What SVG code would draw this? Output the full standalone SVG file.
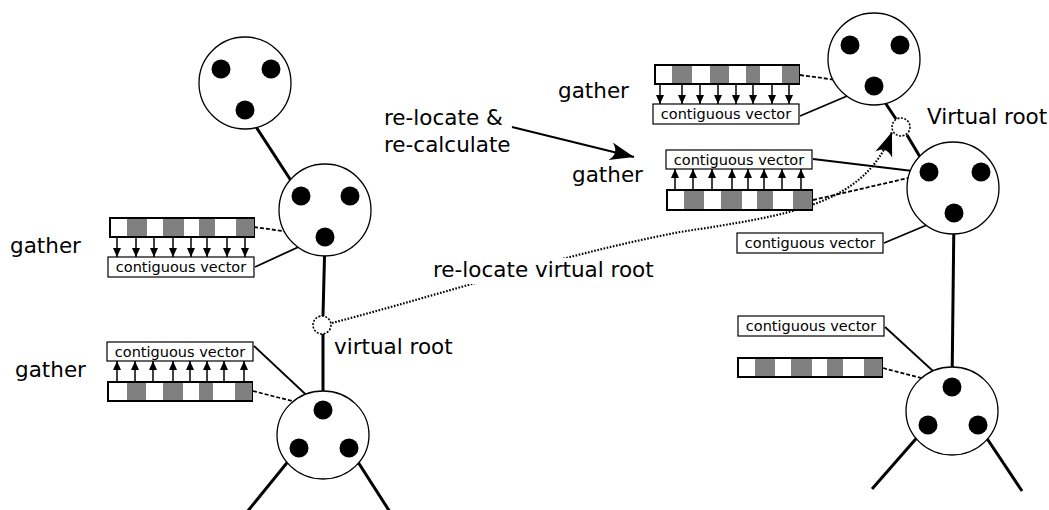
<svg xmlns="http://www.w3.org/2000/svg" width="1049" height="510" viewBox="0 0 1049 510">
<defs>
<marker id="ah" markerUnits="userSpaceOnUse" markerWidth="12" markerHeight="12" viewBox="-10 -6 12 12" refX="0" refY="0" orient="auto">
<path d="M0,0 L-9,-4 L-9,4 Z" fill="#000"/>
</marker>
<marker id="big" markerUnits="userSpaceOnUse" markerWidth="28" markerHeight="22" viewBox="-26 -11 28 22" refX="0" refY="0" orient="auto">
<path d="M0,0 L-24,-9 C-18,-3 -18,3 -24,9 Z" fill="#000"/>
</marker>
</defs>
<style>
.node{fill:#fff;stroke:#000;stroke-width:1.3}
.dot{fill:#000}
.vr{fill:#fff;stroke:#000;stroke-width:1.6;stroke-dasharray:2,1.5}
.edge{stroke:#000;stroke-width:3;fill:none}
.link{stroke:#000;stroke-width:1.8;fill:none}
.dash{stroke:#000;stroke-width:1.8;fill:none;stroke-dasharray:4,2}
.bar{fill:#fff;stroke:#000;stroke-width:2}
.g{fill:#808080}
.box{fill:#fff;stroke:#000;stroke-width:1.2}
.arr{stroke:#000;stroke-width:1.5;fill:none;marker-end:url(#ah)}
.lbl{font-family:"DejaVu Sans",sans-serif;font-size:21.5px;fill:#000}
.bt{font-family:"DejaVu Sans",sans-serif;font-size:14.5px;fill:#000;text-anchor:middle}
</style>

<g id="connectors">
<line class="edge" x1="245" y1="110" x2="301" y2="196"/>
<line class="edge" x1="325" y1="237" x2="323" y2="316"/>
<line class="edge" x1="323" y1="334" x2="323" y2="410"/>
<line class="edge" x1="299" y1="448" x2="247" y2="512"/>
<line class="edge" x1="349" y1="448" x2="390" y2="512"/>
<line class="edge" x1="874" y1="86" x2="896" y2="119"/>
<line class="edge" x1="907" y1="135" x2="929" y2="172"/>
<line class="edge" x1="954" y1="213" x2="952" y2="387"/>
<line class="edge" x1="928" y1="425" x2="872" y2="489"/>
<line class="edge" x1="978" y1="425" x2="1022" y2="491"/>
<line class="dash" x1="254" y1="227" x2="318" y2="236"/>
<line class="link" x1="255" y1="267" x2="318" y2="238"/>
<line class="link" x1="254" y1="346" x2="317" y2="405"/>
<line class="dash" x1="253" y1="391" x2="315" y2="407"/>
<line class="dash" x1="800" y1="75" x2="866" y2="84"/>
<line class="link" x1="800" y1="116" x2="866" y2="88"/>
<line class="link" x1="813" y1="159" x2="921" y2="172"/>
<line class="dash" x1="813" y1="200" x2="921" y2="175"/>
<line class="link" x1="884" y1="243" x2="946" y2="217"/>
<line class="link" x1="885" y1="327" x2="945" y2="382"/>
<line class="dash" x1="883" y1="368" x2="944" y2="384"/>
<path d="M332,323 C450,292 560,255 680,232 C790,215 865,205 892,132" fill="none" stroke="#000" stroke-width="2.2" stroke-dasharray="1.6,1.6" marker-end="url(#big)"/>
<line x1="512" y1="127" x2="634" y2="157" stroke="#000" stroke-width="2" marker-end="url(#big)"/>
</g>

<g id="node-top-left">
<circle class="node" cx="245" cy="83" r="46"/>
<circle class="dot" cx="221" cy="69" r="9.5"/>
<circle class="dot" cx="271" cy="69" r="9.5"/>
<circle class="dot" cx="245" cy="110" r="9.5"/>
</g>
<g id="node-mid-left">
<circle class="node" cx="325" cy="210" r="46"/>
<circle class="dot" cx="301" cy="196" r="9.5"/>
<circle class="dot" cx="350" cy="196" r="9.5"/>
<circle class="dot" cx="325" cy="237" r="9.5"/>
</g>
<g id="node-bottom-left">
<ellipse class="node" cx="323" cy="435" rx="46" ry="44"/>
<circle class="dot" cx="323" cy="410" r="9.5"/>
<circle class="dot" cx="299" cy="448" r="9.5"/>
<circle class="dot" cx="349" cy="448" r="9.5"/>
</g>
<g id="vroot-left">
<circle class="vr" cx="322" cy="325" r="9"/>
</g>
<g id="node-top-right">
<circle class="node" cx="874" cy="59" r="46"/>
<circle class="dot" cx="850" cy="45" r="9.5"/>
<circle class="dot" cx="900" cy="45" r="9.5"/>
<circle class="dot" cx="874" cy="86" r="9.5"/>
</g>
<g id="vroot-right">
<circle class="vr" cx="901" cy="127" r="9"/>
</g>
<g id="node-mid-right">
<circle class="node" cx="953" cy="188" r="46"/>
<circle class="dot" cx="929" cy="172" r="9.5"/>
<circle class="dot" cx="981" cy="172" r="9.5"/>
<circle class="dot" cx="954" cy="213" r="9.5"/>
</g>
<g id="node-bottom-right">
<ellipse class="node" cx="952" cy="411" rx="46" ry="44"/>
<circle class="dot" cx="952" cy="387" r="9.5"/>
<circle class="dot" cx="928" cy="425" r="9.5"/>
<circle class="dot" cx="978" cy="425" r="9.5"/>
</g>

<g id="vec-left-top">
<rect class="bar" x="110" y="218" width="144" height="19"/>
<rect class="g" x="127" y="219" width="20" height="17"/>
<rect class="g" x="163" y="219" width="21" height="17"/>
<rect class="g" x="199" y="219" width="16" height="17"/>
<rect class="g" x="236" y="219" width="18" height="17"/>
<line class="arr" x1="117" y1="238" x2="117" y2="257"/>
<line class="arr" x1="136" y1="238" x2="136" y2="257"/>
<line class="arr" x1="154" y1="238" x2="154" y2="257"/>
<line class="arr" x1="173" y1="238" x2="173" y2="257"/>
<line class="arr" x1="191" y1="238" x2="191" y2="257"/>
<line class="arr" x1="207" y1="238" x2="207" y2="257"/>
<line class="arr" x1="227" y1="238" x2="227" y2="257"/>
<line class="arr" x1="245" y1="238" x2="245" y2="257"/>
<rect class="box" x="108" y="257" width="146" height="20"/>
<text class="bt" x="181" y="272">contiguous vector</text>
</g>
<g id="vec-left-bottom">
<rect class="box" x="107" y="342" width="146" height="19"/>
<text class="bt" x="180" y="356.5">contiguous vector</text>
<line class="arr" x1="117" y1="382" x2="117" y2="361"/>
<line class="arr" x1="135" y1="382" x2="135" y2="361"/>
<line class="arr" x1="153" y1="382" x2="153" y2="361"/>
<line class="arr" x1="173" y1="382" x2="173" y2="361"/>
<line class="arr" x1="190" y1="382" x2="190" y2="361"/>
<line class="arr" x1="207" y1="382" x2="207" y2="361"/>
<line class="arr" x1="224" y1="382" x2="224" y2="361"/>
<line class="arr" x1="244" y1="382" x2="244" y2="361"/>
<rect class="bar" x="108" y="382" width="144" height="19"/>
<rect class="g" x="127" y="383" width="19" height="17"/>
<rect class="g" x="163" y="383" width="20" height="17"/>
<rect class="g" x="199" y="383" width="14" height="17"/>
<rect class="g" x="235" y="383" width="17" height="17"/>
</g>
<g id="vec-right-top">
<rect class="bar" x="655" y="65" width="144" height="19"/>
<rect class="g" x="672" y="66" width="20" height="17"/>
<rect class="g" x="710" y="66" width="19" height="17"/>
<rect class="g" x="746" y="66" width="14" height="17"/>
<rect class="g" x="782" y="66" width="17" height="17"/>
<line class="arr" x1="660" y1="85" x2="660" y2="104"/>
<line class="arr" x1="682" y1="85" x2="682" y2="104"/>
<line class="arr" x1="700" y1="85" x2="700" y2="104"/>
<line class="arr" x1="718" y1="85" x2="718" y2="104"/>
<line class="arr" x1="736" y1="85" x2="736" y2="104"/>
<line class="arr" x1="753" y1="85" x2="753" y2="104"/>
<line class="arr" x1="772" y1="85" x2="772" y2="104"/>
<line class="arr" x1="789" y1="85" x2="789" y2="104"/>
<rect class="box" x="653" y="104" width="146" height="20"/>
<text class="bt" x="726" y="119">contiguous vector</text>
</g>
<g id="vec-right-mid">
<rect class="box" x="666" y="150" width="146" height="19"/>
<text class="bt" x="739" y="164.5">contiguous vector</text>
<line class="arr" x1="675" y1="190" x2="675" y2="169"/>
<line class="arr" x1="693" y1="190" x2="693" y2="169"/>
<line class="arr" x1="712" y1="190" x2="712" y2="169"/>
<line class="arr" x1="732" y1="190" x2="732" y2="169"/>
<line class="arr" x1="748" y1="190" x2="748" y2="169"/>
<line class="arr" x1="764" y1="190" x2="764" y2="169"/>
<line class="arr" x1="782" y1="190" x2="782" y2="169"/>
<line class="arr" x1="801" y1="190" x2="801" y2="169"/>
<rect class="bar" x="667" y="190" width="145" height="20"/>
<rect class="g" x="684" y="191" width="20" height="18"/>
<rect class="g" x="721" y="191" width="21" height="18"/>
<rect class="g" x="757" y="191" width="16" height="18"/>
<rect class="g" x="793" y="191" width="19" height="18"/>
</g>
<g id="vec-right-mid2">
<rect class="box" x="737" y="233" width="146" height="20"/>
<text class="bt" x="810" y="248">contiguous vector</text>
</g>
<g id="vec-right-bottom">
<rect class="box" x="738" y="316" width="146" height="20"/>
<text class="bt" x="811" y="331">contiguous vector</text>
<rect class="bar" x="738" y="358" width="144" height="19"/>
<rect class="g" x="755" y="359" width="20" height="17"/>
<rect class="g" x="791" y="359" width="21" height="17"/>
<rect class="g" x="827" y="359" width="16" height="17"/>
<rect class="g" x="864" y="359" width="18" height="17"/>
</g>

<g id="labels">
<text class="lbl" x="10" y="253">gather</text>
<text class="lbl" x="15" y="377">gather</text>
<text class="lbl" x="334" y="354">virtual root</text>
<rect x="430" y="258" width="230" height="26" fill="#fff"/>
<text class="lbl" x="433" y="277">re-locate virtual root</text>
<text class="lbl" x="384" y="125">re-locate &amp;</text>
<text class="lbl" x="384" y="152">re-calculate</text>
<text class="lbl" x="558" y="98">gather</text>
<text class="lbl" x="572" y="182">gather</text>
<text class="lbl" x="927" y="124">Virtual root</text>
</g>
</svg>
